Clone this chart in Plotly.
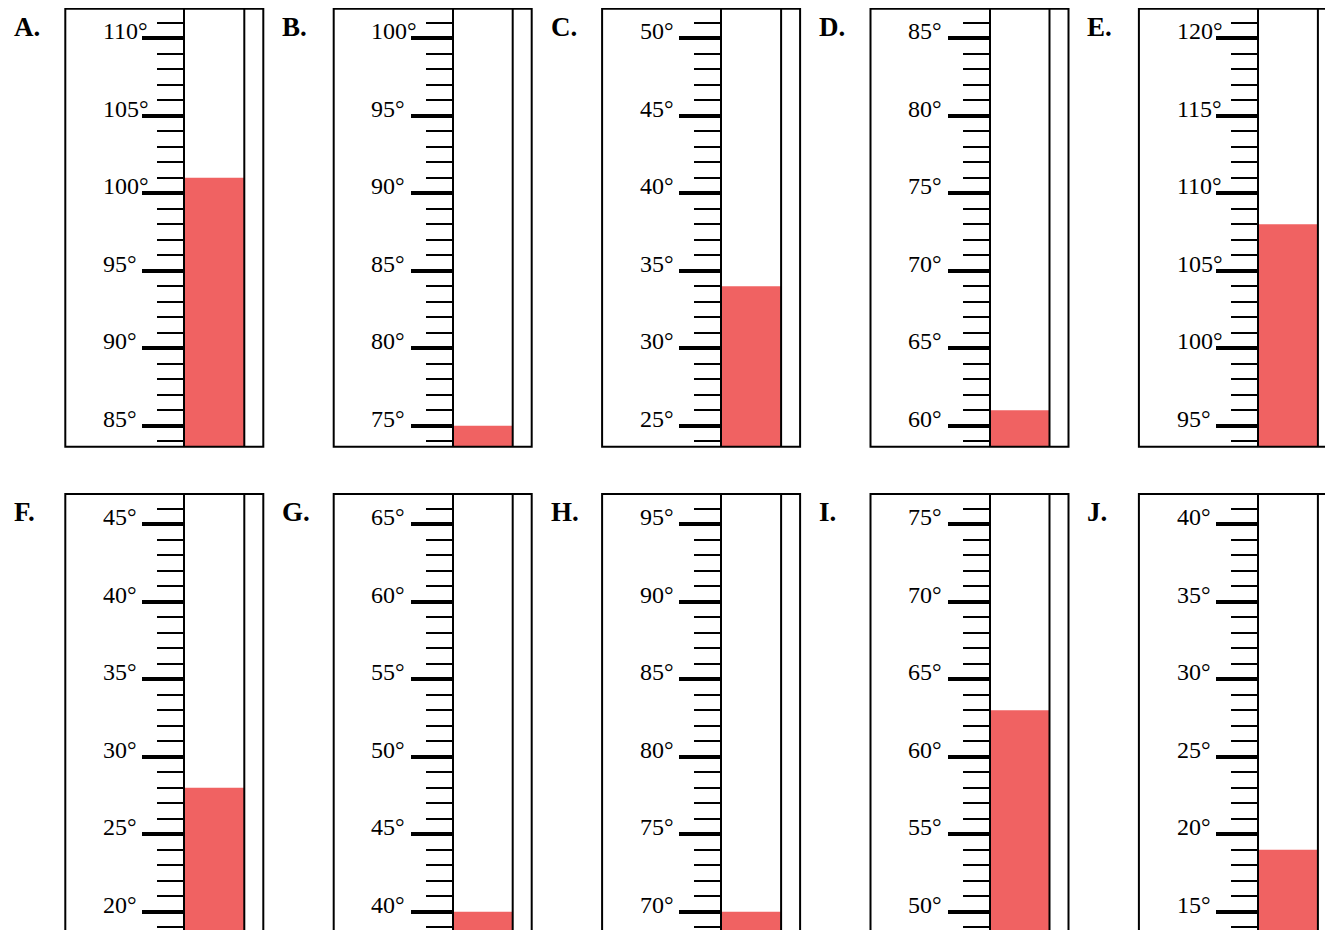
import plotly.graph_objects as go

# panel data
letters = ["A", "B", "C", "D", "E", "F", "G", "H", "I", "J"]
top_marks = [110, 100, 50, 85, 120, 45, 65, 95, 75, 40]
readings = [101, 75, 34, 61, 108, 28, 40, 70, 63, 19]

# geometry, in page pixels (the html body adds an 8px margin)
W, H = 1333, 930
OFF = 8
PANEL_X0, PANEL_DX, PANEL_W = 65.3, 268.4, 198
TUBE_L, TUBE_R = 119, 179
ROW_TOP = [8.8, 494.0]
ROW_BOT = [446.7, 934.0]
ROW_MAJOR = [38.3, 524.3]   # page y of the top labelled tick
PX_PER_DEG = 15.5
RED = "#F06262"
SERIF = "Liberation Serif, Times New Roman, serif"


def px_x(p):
    return (p - OFF) / W


def px_y(p):
    return 1 - (p - OFF) / H


fig = go.Figure()
shapes, annotations = [], []

for i, (letter, top, val) in enumerate(zip(letters, top_marks, readings)):
    k = i + 1
    r, c = divmod(i, 5)
    L = PANEL_X0 + c * PANEL_DX
    R = L + PANEL_W
    vis_r = min(R, W + OFF)
    dom_top = max(ROW_TOP[r], OFF)
    dom_bot = min(ROW_BOT[r], H + OFF)
    hi = top + (ROW_MAJOR[r] - dom_top) / PX_PER_DEG
    lo = top - (dom_bot - ROW_MAJOR[r]) / PX_PER_DEG

    fig.add_trace(go.Bar(
        x=[(TUBE_L + TUBE_R) / 2], y=[val - lo], base=[lo], width=[TUBE_R - TUBE_L],
        marker=dict(color=RED, line=dict(width=0)),
        xaxis=f"x{k}", yaxis=f"y{k}", cliponaxis=False, hoverinfo="skip",
    ))

    fig.update_layout(**{
        f"xaxis{k}": dict(domain=[px_x(L), px_x(vis_r)], range=[0, vis_r - L],
                          visible=False, fixedrange=True),
        f"yaxis{k}": dict(
            domain=[px_y(dom_bot), px_y(dom_top)], range=[lo, hi],
            anchor="free", position=px_x(L + TUBE_L), side="left",
            showline=True, linecolor="black", linewidth=2,
            ticks="outside", ticklen=41, tickwidth=4, tickcolor="black",
            tick0=0, dtick=5, showticklabels=False,
            showgrid=False, zeroline=False, fixedrange=True,
            minor=dict(ticks="outside", ticklen=26, tickwidth=2,
                       tickcolor="black", tick0=0, dtick=1, showgrid=False),
        ),
    })

    # outer frame and right wall of the tube
    shapes.append(dict(type="rect", xref="paper", yref="paper",
                       x0=px_x(L), x1=px_x(R), y0=px_y(ROW_BOT[r]), y1=px_y(ROW_TOP[r]),
                       line=dict(color="black", width=2)))
    shapes.append(dict(type="line", xref="paper", yref="paper",
                       x0=px_x(L + TUBE_R), x1=px_x(L + TUBE_R),
                       y0=px_y(ROW_BOT[r]), y1=px_y(ROW_TOP[r]),
                       line=dict(color="black", width=2)))

    # degree labels
    v = top
    while v > lo:
        annotations.append(dict(
            text=f"{v}°", xref="paper", yref=f"y{k}", x=px_x(L + 35.7), y=v,
            xanchor="left", yanchor="middle", yshift=7, showarrow=False,
            font=dict(family=SERIF, size=24, color="black"),
        ))
        v -= 5

    # panel letter
    annotations.append(dict(
        text=f"<b>{letter}.</b>", xref="paper", yref="paper",
        x=px_x(L - 53.5), y=px_y(ROW_TOP[r] + 18), xanchor="left", yanchor="middle",
        showarrow=False, font=dict(family=SERIF, size=27, color="black"),
    ))

fig.update_layout(
    width=W, height=H, margin=dict(l=0, r=0, t=0, b=0),
    paper_bgcolor="white", plot_bgcolor="white", showlegend=False,
    shapes=shapes, annotations=annotations,
)

fig.write_html("out.html")
